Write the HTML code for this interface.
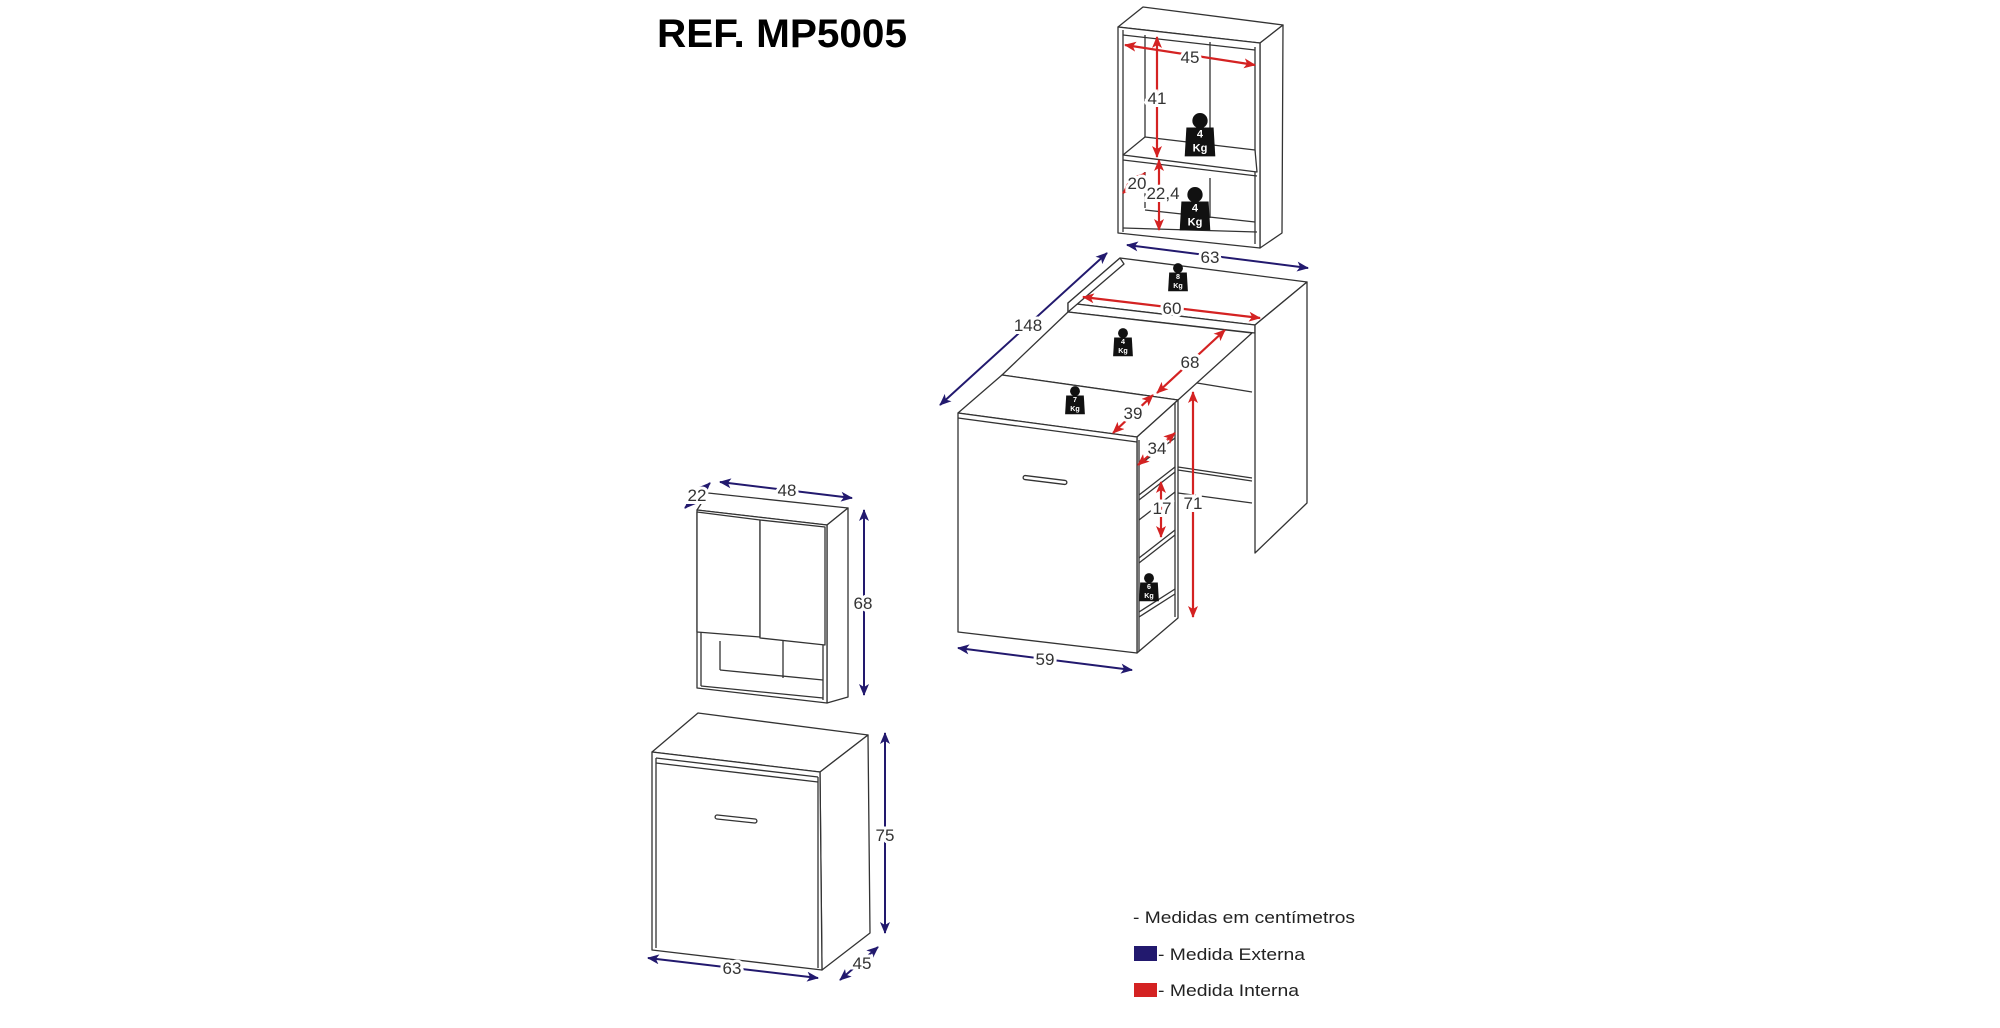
<!DOCTYPE html>
<html><head><meta charset="utf-8"><style>
html,body{margin:0;padding:0;background:#fff;}
svg{display:block;}
text{font-family:"Liberation Sans",sans-serif;}
</style></head><body>
<svg width="2000" height="1028" viewBox="0 0 2000 1028" xmlns="http://www.w3.org/2000/svg">
<defs>
<marker id="nb" viewBox="0 0 12 10" refX="11" refY="5" markerWidth="12" markerHeight="10" orient="auto-start-reverse" markerUnits="userSpaceOnUse"><path d="M0,0 L12,5 L0,10 L3,5 z" fill="#22196e"/></marker>
<marker id="rd" viewBox="0 0 12 10" refX="11" refY="5" markerWidth="12" markerHeight="10" orient="auto-start-reverse" markerUnits="userSpaceOnUse"><path d="M0,0 L12,5 L0,10 L3,5 z" fill="#d42222"/></marker>
</defs>
<text x="657" y="47" font-size="40" font-weight="bold" textLength="250" lengthAdjust="spacingAndGlyphs">REF. MP5005</text>

<g fill="#fff" stroke="#333" stroke-width="1.3" stroke-linejoin="round">
<polygon points="1143,7 1283,25 1260,43 1118,27"/>
<polygon points="1260,43 1283,25 1282,233 1260,248"/>
<polygon points="1118,27 1260,43 1260,248 1118,233"/>
<polyline points="1123,30 1123,232" fill="none"/>
<polyline points="1255,47 1255,244" fill="none"/>
<line x1="1123" y1="35" x2="1255" y2="50"/>
<line x1="1145" y1="35" x2="1145" y2="155"/>
<line x1="1210" y1="42" x2="1210" y2="140"/>
<line x1="1145" y1="172" x2="1145" y2="208"/>
<line x1="1210" y1="178" x2="1210" y2="218"/>
<polygon points="1145,137 1255,150 1257,172 1123,155"/>
<line x1="1123" y1="160" x2="1257" y2="176"/>
<line x1="1145" y1="210" x2="1255" y2="222"/>
<line x1="1123" y1="228" x2="1257" y2="232"/>

<polygon points="1120,258 1307,282 1255,325 1068,303"/>
<polygon points="1068,303 1255,325 1255,333 1068,312"/>
<polygon points="1120,258 1068,303 1068,312 1124,264"/>
<polygon points="1255,325 1307,282 1307,503 1255,553"/>
<polygon points="1068,312 1252,333 1178,400 1002,375"/>
<line x1="1197" y1="383" x2="1252" y2="392"/>
<line x1="1178" y1="467" x2="1252" y2="478"/>
<line x1="1178" y1="470" x2="1252" y2="481"/>
<line x1="1178" y1="493" x2="1252" y2="503"/>
<polygon points="1002,375 1178,400 1137,437 958,413"/>
<polygon points="1137,437 1178,400 1178,618 1137,653"/>
<polygon points="958,413 1137,437 1137,653 958,632"/>
<line x1="958" y1="418" x2="1137" y2="442"/>
<line x1="1139" y1="440" x2="1139" y2="651"/>
<line x1="1175" y1="403" x2="1175" y2="617"/>
<polyline points="1139,465 1175,438" fill="none"/>
<polyline points="1139,495 1175,467" fill="none"/>
<polyline points="1139,500 1175,472" fill="none"/>
<polyline points="1139,520 1175,492" fill="none"/>
<polyline points="1139,558 1175,530" fill="none"/>
<polyline points="1139,563 1175,535" fill="none"/>
<polyline points="1139,612 1175,589" fill="none"/>
<polyline points="1139,617 1175,594" fill="none"/>
<rect x="1023" y="478" width="44" height="4" rx="2" transform="rotate(7 1045 480)"/>

<polygon points="708,493 848,508 827,525 697,510"/>
<polygon points="827,525 848,508 848,697 827,703"/>
<polygon points="697,510 827,525 827,703 697,688"/>
<polygon points="697,512 760,520 760,637 697,632"/>
<polygon points="760,520 825,527 825,645 760,638"/>
<line x1="701" y1="632" x2="701" y2="686"/>
<line x1="720" y1="670" x2="823" y2="680"/>
<line x1="701" y1="686" x2="823" y2="698"/>
<line x1="720" y1="670" x2="720" y2="641"/>
<line x1="783" y1="641" x2="783" y2="678"/>
<line x1="823" y1="645" x2="823" y2="700"/>
<polygon points="698,713 868,735 820,772 652,752"/>
<polygon points="820,772 868,735 870,933 822,970"/>
<polygon points="652,752 820,772 822,970 652,950"/>
<line x1="656" y1="758" x2="818" y2="777"/>
<line x1="656" y1="763" x2="818" y2="782"/>
<line x1="656" y1="758" x2="656" y2="948"/>
<line x1="818" y1="777" x2="818" y2="968"/>
<rect x="715" y="817" width="42" height="4" rx="2" transform="rotate(6 736 819)"/>
</g>

<g stroke="#d42222" stroke-width="2.2" fill="none">
<line x1="1125" y1="45" x2="1255" y2="65" marker-start="url(#rd)" marker-end="url(#rd)"/>
<line x1="1157" y1="37" x2="1157" y2="157" marker-start="url(#rd)" marker-end="url(#rd)"/>
<line x1="1159" y1="160" x2="1159" y2="230" marker-start="url(#rd)" marker-end="url(#rd)"/>
<line x1="1145" y1="173" x2="1123" y2="193" marker-start="url(#rd)" marker-end="url(#rd)"/>
<line x1="1083" y1="297" x2="1260" y2="318" marker-start="url(#rd)" marker-end="url(#rd)"/>
<line x1="1225" y1="330" x2="1157" y2="393" marker-start="url(#rd)" marker-end="url(#rd)"/>
<line x1="1153" y1="395" x2="1113" y2="433" marker-start="url(#rd)" marker-end="url(#rd)"/>
<line x1="1175" y1="433" x2="1138" y2="465" marker-start="url(#rd)" marker-end="url(#rd)"/>
<line x1="1161" y1="482" x2="1161" y2="537" marker-start="url(#rd)" marker-end="url(#rd)"/>
<line x1="1193" y1="392" x2="1193" y2="617" marker-start="url(#rd)" marker-end="url(#rd)"/>
</g>
<g stroke="#22196e" stroke-width="2" fill="none">
<line x1="1127" y1="245" x2="1308" y2="268" marker-start="url(#nb)" marker-end="url(#nb)"/>
<line x1="1107" y1="253" x2="940" y2="405" marker-start="url(#nb)" marker-end="url(#nb)"/>
<line x1="958" y1="648" x2="1132" y2="670" marker-start="url(#nb)" marker-end="url(#nb)"/>
<line x1="710" y1="483" x2="685" y2="508" marker-start="url(#nb)" marker-end="url(#nb)"/>
<line x1="720" y1="482" x2="852" y2="498" marker-start="url(#nb)" marker-end="url(#nb)"/>
<line x1="864" y1="510" x2="864" y2="695" marker-start="url(#nb)" marker-end="url(#nb)"/>
<line x1="885" y1="733" x2="885" y2="933" marker-start="url(#nb)" marker-end="url(#nb)"/>
<line x1="648" y1="958" x2="818" y2="978" marker-start="url(#nb)" marker-end="url(#nb)"/>
<line x1="878" y1="947" x2="840" y2="980" marker-start="url(#nb)" marker-end="url(#nb)"/>
</g>
<g font-size="17" fill="#333" text-anchor="middle">
<g stroke="#fff" stroke-width="6" paint-order="stroke">
<text x="1190" y="63">45</text>
<text x="1157" y="104">41</text>
<text x="1163" y="199">22,4</text>
<text x="1137" y="189">20</text>
<text x="1210" y="263">63</text>
<text x="1028" y="331">148</text>
<text x="1172" y="314">60</text>
<text x="1190" y="368">68</text>
<text x="1133" y="419">39</text>
<text x="1157" y="454">34</text>
<text x="1162" y="514">17</text>
<text x="1193" y="509">71</text>
<text x="1045" y="665">59</text>
<text x="697" y="501">22</text>
<text x="787" y="496">48</text>
<text x="863" y="609">68</text>
<text x="885" y="841">75</text>
<text x="732" y="974">63</text>
<text x="862" y="969">45</text>
</g>
</g>
<g fill="#111">
<g transform="translate(1200,136) scale(1.7)"><circle cx="0" cy="-9" r="4.5"/><path d="M-8,-5 L8,-5 L9,12 L-9,12 z"/><text x="0" y="1" font-size="6.5" font-weight="bold" fill="#fff" text-anchor="middle">4</text><text x="0" y="9" font-size="6.5" font-weight="bold" fill="#fff" text-anchor="middle">Kg</text></g>
<g transform="translate(1195,210) scale(1.7)"><circle cx="0" cy="-9" r="4.5"/><path d="M-8,-5 L8,-5 L9,12 L-9,12 z"/><text x="0" y="1" font-size="6.5" font-weight="bold" fill="#fff" text-anchor="middle">4</text><text x="0" y="9" font-size="6.5" font-weight="bold" fill="#fff" text-anchor="middle">Kg</text></g>
<g transform="translate(1178,278) scale(1.1)"><circle cx="0" cy="-9" r="4.5"/><path d="M-8,-5 L8,-5 L9,12 L-9,12 z"/><text x="0" y="1" font-size="6.5" font-weight="bold" fill="#fff" text-anchor="middle">8</text><text x="0" y="9" font-size="6.5" font-weight="bold" fill="#fff" text-anchor="middle">Kg</text></g>
<g transform="translate(1123,343) scale(1.1)"><circle cx="0" cy="-9" r="4.5"/><path d="M-8,-5 L8,-5 L9,12 L-9,12 z"/><text x="0" y="1" font-size="6.5" font-weight="bold" fill="#fff" text-anchor="middle">4</text><text x="0" y="9" font-size="6.5" font-weight="bold" fill="#fff" text-anchor="middle">Kg</text></g>
<g transform="translate(1075,401) scale(1.1)"><circle cx="0" cy="-9" r="4.5"/><path d="M-8,-5 L8,-5 L9,12 L-9,12 z"/><text x="0" y="1" font-size="6.5" font-weight="bold" fill="#fff" text-anchor="middle">7</text><text x="0" y="9" font-size="6.5" font-weight="bold" fill="#fff" text-anchor="middle">Kg</text></g>
<g transform="translate(1149,588) scale(1.1)"><circle cx="0" cy="-9" r="4.5"/><path d="M-8,-5 L8,-5 L9,12 L-9,12 z"/><text x="0" y="1" font-size="6.5" font-weight="bold" fill="#fff" text-anchor="middle">6</text><text x="0" y="9" font-size="6.5" font-weight="bold" fill="#fff" text-anchor="middle">Kg</text></g>
</g>
<g font-size="17" fill="#222">
<text x="1133" y="923" textLength="222" lengthAdjust="spacingAndGlyphs">- Medidas em centímetros</text>
<rect x="1134" y="946" width="23" height="15" fill="#22196e"/>
<text x="1158" y="960" textLength="147" lengthAdjust="spacingAndGlyphs">- Medida Externa</text>
<rect x="1134" y="983" width="23" height="14" fill="#d42222"/>
<text x="1158" y="996" textLength="141" lengthAdjust="spacingAndGlyphs">- Medida Interna</text>
</g>
</svg>
</body></html>
